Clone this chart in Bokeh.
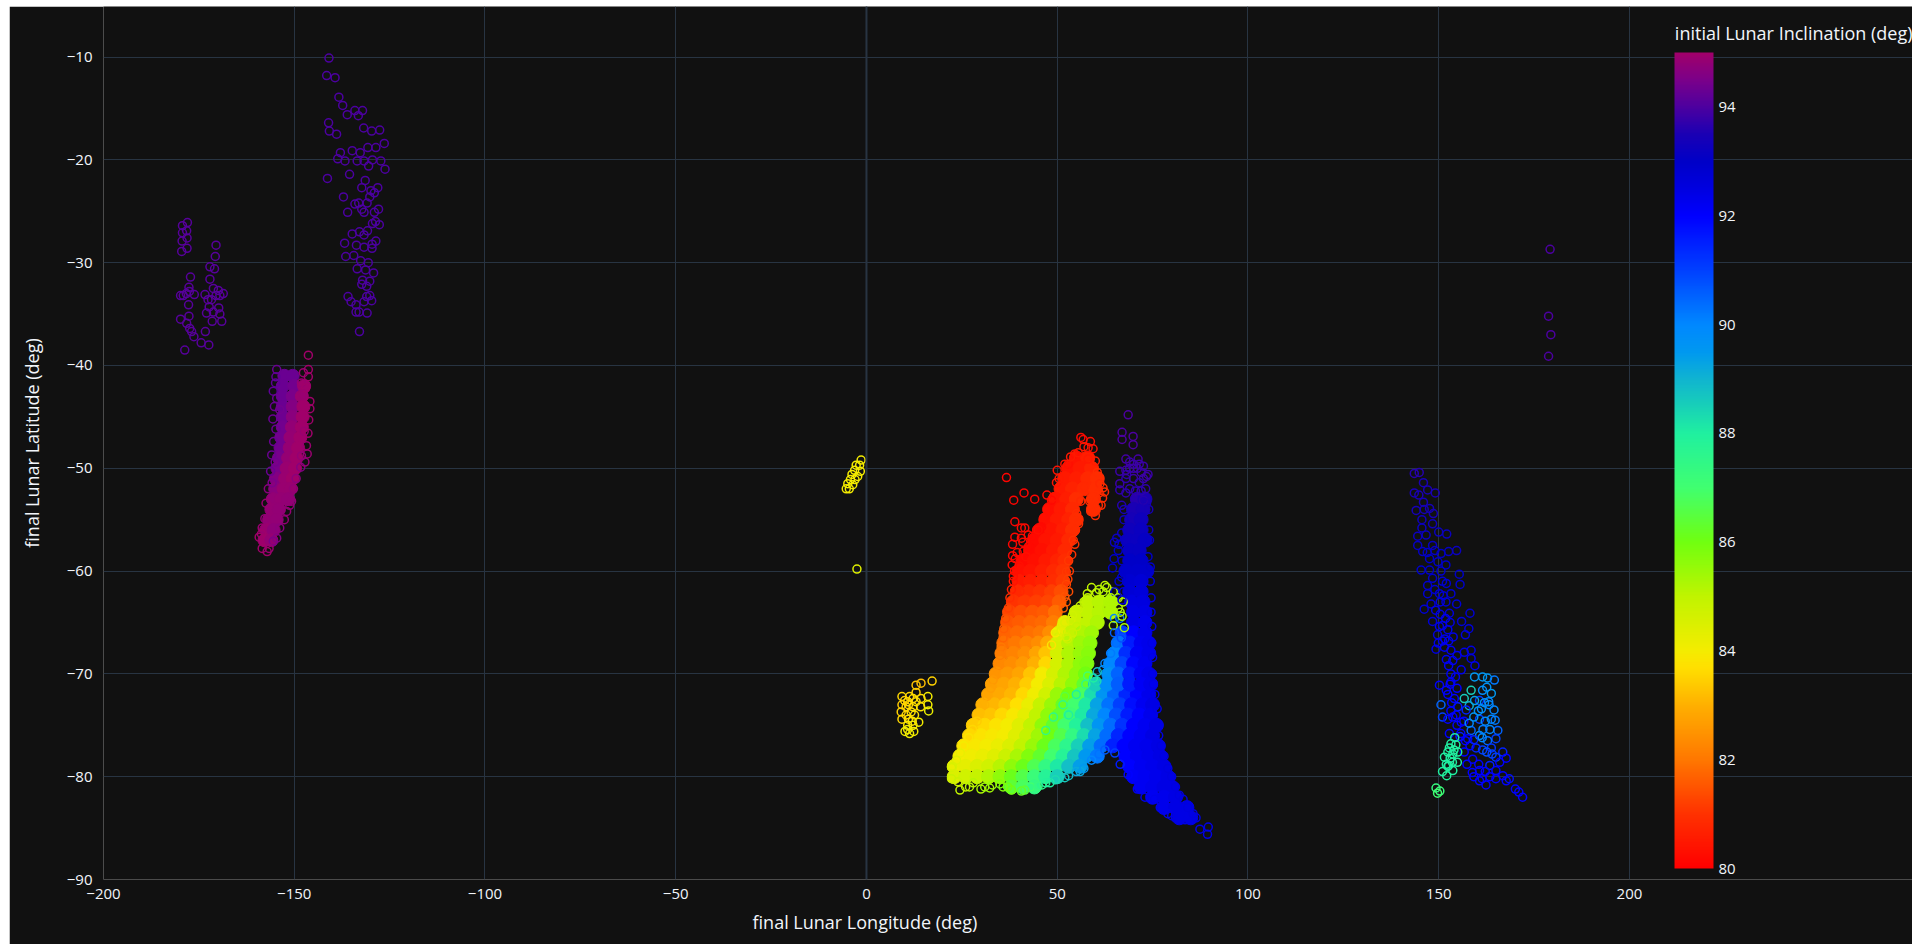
from bokeh.embed import file_html
from bokeh.resources import INLINE
from bokeh.plotting import figure
from bokeh.models import (ColumnDataSource, LinearColorMapper, ColorBar, FixedTicker,
                          Range1d, Span, Label, Title)

# ---------- axis and scale labels ----------
x_ticks = [-200, -150, -100, -50, 0, 50, 100, 150, 200]
y_ticks = [-90, -80, -70, -60, -50, -40, -30, -20, -10]
cbar_ticks = [80, 82, 84, 86, 88, 90, 92, 94]
x_title = "final Lunar Longitude (deg)"
y_title = "final Lunar Latitude (deg)"
cbar_title = "initial Lunar Inclination (deg)"

# colour scale stops: (inclination, hex)
scale_stops = [(80, "#ff0000"), (81, "#ff3200"), (82, "#ff7800"), (83, "#ffb000"), (83.7, "#ffe000"),
               (84, "#f4ec00"), (85, "#c0f400"), (86, "#70ff10"), (87, "#40ff70"), (88, "#20f0a0"),
               (88.5, "#18d0b8"), (89, "#10b4d0"), (89.5, "#0098f0"), (90, "#0088ff"), (91, "#0040ff"),
               (92, "#0000ff"), (92.5, "#0000e0"), (93, "#0000c8"), (93.5, "#1a00b4"), (94, "#4c00a0"),
               (94.5, "#7a008a"), (95, "#a0006a")]

# ---------- sparse points, read one by one: (lon, lat, inc) ----------
top_arc = [(-140.9,-10.1,94),(-141.5,-11.8,94),(-139.3,-12,94),(-138.3,-13.9,94),(-137.3,-14.7,94),(-136.1,-15.6,94),
 (-134.1,-15.2,94),(-133.2,-15.7,94),(-132.1,-15.2,94),(-141,-16.4,94),(-140.8,-17.2,94),(-138.9,-17.5,94),
 (-131.8,-16.9,94),(-129.7,-17.2,94),(-127.6,-17.1,94),(-126.4,-18.4,94),(-128.6,-18.8,94),(-130.7,-18.8,94),
 (-132.7,-19.3,94),(-134.8,-19.1,94),(-137.9,-19.3,94),(-138.6,-19.9,94),(-136.7,-20.1,94),(-133.5,-20.1,94),
 (-131.7,-20.1,94),(-129.5,-20,94),(-127.3,-20.1,94),(-130.5,-20.6,94),(-126.2,-20.9,94),(-141.3,-21.8,94),
 (-135.5,-21.4,94),(-131.4,-22,94),(-132.3,-22.7,94),(-128.1,-22.7,94),(-129.9,-23,94),(-129,-23.2,94),
 (-130.2,-23.6,94),(-137.1,-23.6,94),(-134.1,-24.3,94),(-133.1,-24.2,94),(-130.9,-24.2,94),(-132.3,-24.8,94),
 (-131.7,-25.1,94),(-127.9,-24.8,94),(-129,-25.1,94),(-136,-25.1,94),(-129.5,-26.2,94),(-127.7,-26.3,94),
 (-128.7,-26,94),(-130.8,-26.9,94),(-132.9,-27,94),(-134.8,-27.2,94),(-131.7,-27.3,94),(-136.8,-28.1,94),
 (-133.7,-28.3,94),(-128.6,-27.9,94),(-129.6,-28.2,94),(-129.6,-28.6,94),(-131.7,-28.5,94),(-136.5,-29.4,94),
 (-134.4,-29.3,94),(-132.6,-29.8,94),(-130.6,-30,94),(-133.5,-30.6,94),(-131.3,-30.7,94),(-129.2,-31,94),
 (-132.1,-31.7,94),(-130.2,-31.8,94),(-132.3,-32.1,94),(-131,-32.3,94),(-135.9,-33.3,94),(-130.2,-33.2,94),
 (-131,-33.3,94),(-129.7,-33.7,94),(-135.1,-33.8,94),(-131.7,-33.8,94),(-133.8,-34.1,94),(-133.8,-34.8,94),
 (-133,-34.8,94),(-130.9,-34.9,94),(-132.9,-36.7,94)]

far_left = [(-178,-26.1,94.1),(-179.3,-26.4,94.1),(-178.2,-26.9,94.1),(-179.3,-27.1,94.1),(-178.1,-27.6,94.1),
 (-179.4,-27.9,94.1),(-178.1,-28.6,94.1),(-179.5,-28.9,94.1),(-170.5,-28.3,94.1),(-170.7,-29.4,94.1),(-172.1,-30.4,94.1),
 (-170.9,-30.6,94.1),(-177.2,-31.4,94.1),(-172.1,-31.6,94.1),(-177.6,-32.4,94.1),(-171.2,-32.5,94.1),(-179.8,-33.2,94.1),
 (-179.1,-33.2,94.1),(-178.3,-33,94.1),(-177.5,-32.8,94.1),(-176.2,-33.1,94.1),(-173.4,-33.1,94.1),(-169.9,-32.7,94.1),
 (-168.6,-33,94.1),(-169.5,-33.2,94.1),(-170.5,-33.2,94.1),(-172.6,-33.6,94.1),(-171.7,-33.6,94.1),(-177.7,-34.1,94.1),
 (-169.8,-34.4,94.1),(-172.3,-34.3,94.1),(-173,-34.9,94.1),(-171.2,-34.8,94.1),(-169.5,-35,94.1),(-179.8,-35.5,94.1),
 (-177.6,-35.2,94.1),(-171.5,-35.7,94.1),(-169,-35.7,94.1),(-178.2,-35.9,94.1),(-177.4,-36.4,94.1),(-176.9,-36.7,94.1),
 (-176.3,-37.2,94.1),(-173.3,-36.7,94.1),(-174.4,-37.8,94.1),(-172.4,-38,94.1),(-178.7,-38.5,94.1)]

far_right = [(179.2,-28.7,94),(178.8,-35.2,94),(179.4,-37,94),(178.8,-39.1,94)]

yellow_chain = [(-1.4,-49.2,84),(-1.8,-49.7,84),(-1.6,-50.3,84),(-2.7,-49.7,84),(-3.1,-50.2,84),(-3.8,-50.6,84),
 (-2.3,-50.8,84),(-4.2,-51.1,84),(-3,-51.1,84),(-4.9,-51.5,84),(-3.6,-51.6,84),(-5.3,-52,84),(-4.5,-52,84),(-2.5,-59.8,84.4)]

yellow_patch = [(17.2,-70.7,83.5),(14.3,-70.9,83.2),(13,-71.1,83.3),(13,-71.8,83.4),(9.3,-72.2,83.6),(16.1,-72.2,84),
 (12.2,-72.4,83.7),(14.3,-72.4,83.7),(10.8,-72.7,83.6),(13,-72.7,83.7),(16.1,-73,84),(9.3,-73,83.4),(10.4,-73.2,83.5),
 (12.2,-73.2,83.7),(14.2,-73.2,83.8),(16.3,-73.6,84.2),(9.1,-73.7,83.5),(11.7,-73.7,83.7),(10.4,-74,83.6),(12.6,-74,83.8),
 (9.3,-74.4,83.6),(11,-74.4,83.7),(13.7,-74.7,84),(10.8,-75,83.9),(12.2,-75,84),(10.1,-75.6,84),(11.3,-75.8,84.1),
 (12.4,-75.6,84),(11.3,-72.2,83.6),(10,-72.6,83.5),(11,-73,83.6),(12,-74.6,83.8),(10.8,-75.4,84)]

magenta_edge = [(-146.3,-39,95),(-146.3,-40.4,95),(-147.6,-40.7,94.9),(-154.6,-40.4,94.3),(-154.8,-41.1,94.2),
 (-154.9,-41.7,94.2),(-146.3,-41.1,95),(-155.5,-42.5,94.2),(-148.1,-41.7,94.9),(-147,-42.2,95),(-145.9,-43.5,95),
 (-155.2,-44,94.3),(-145.9,-44.2,95),(-153.8,-44.3,94.4),(-146.2,-45.3,95),(-146.8,-47.8,94.9),(-155.9,-48.7,94.3),
 (-148.3,-49.9,94.6),(-156.2,-50.3,94.3),(-150.7,-53.2,94.8),(-157.4,-53.4,94.9),(-152,-54.2,94.8),(-153.8,-55.8,94.7),
 (-157.7,-54.9,94.8),(-159.2,-56.7,95),(-155.5,-57.1,94.5),(-158.4,-57.8,95),(-157.1,-58.1,95),(-147.6,-42.8,94.9),
 (-147.4,-46.4,94.9),(-154.8,-46.2,94.3),(-155.4,-47.4,94.3),(-148.1,-48.8,94.8),(-149.5,-51,94.7),(-156.8,-52,94.7),
 (-146.4,-46.6,95),(-146.6,-48.6,94.9),(-147.2,-49.4,94.8),(-155.6,-45.2,94.3),(-154.6,-43.2,94.3),(-155,-49.4,94.4),
 (-155.8,-51.4,94.5),(-150.2,-52,94.8),(-151.2,-53.6,94.8),(-152.6,-55,94.8),(-158.4,-55.8,94.9),(-154.6,-56.8,94.6),
 (-158.6,-56.4,95),(-156.6,-57.8,94.9)]

right_plume = [(143.6,-50.5,93.6),(144.9,-50.4,93.6),(146,-51.4,93.5),(143.6,-52.4,93.5),(144.8,-52.6,93.5),(147.1,-52.1,93.5),
 (149.1,-52.4,93.5),(146,-53.3,93.4),(144.1,-54.1,93.4),(146.2,-54,93.4),(147.6,-53.9,93.4),(145.6,-55,93.3),(148.6,-54.4,93.4),
 (148.4,-55.4,93.3),(145.6,-55.8,93.2),(150,-56.2,93.2),(152.1,-56.4,93.2),(144.5,-56.6,93.2),(146.7,-56.5,93.2),(144.5,-57.5,93.1),
 (148.4,-57.5,93.1),(145.8,-58.1,93.1),(152.6,-58.1,93.1),(154.7,-58,93.2),(150.6,-58.3,93),(147.6,-58.8,93),(149.8,-59.1,93),
 (151.9,-59.4,93),(145.4,-59.9,92.9),(147.6,-59.9,92.9),(155.4,-60.3,93),(148.4,-60.7,92.9),(151,-61,92.8),(155.6,-61.3,92.9),
 (147.1,-61.4,92.8),(153.2,-62.2,92.8),(147.1,-62.2,92.8),(150.2,-62.2,92.7),(148,-63.2,92.7),(146.2,-63.7,92.7),(151.9,-63,92.7),
 (154.7,-63.2,92.7),(158.2,-64.1,92.8),(148.4,-64.9,92.6),(152.8,-64.1,92.5),(156,-64.9,92.6),(157.9,-65.6,92.6),(151,-65.3,92.4),
 (149.7,-66.2,92.5),(157,-66.2,92.5),(152.4,-65.7,92.3),(149.3,-67.6,92.4),(151.5,-67.4,92.2),(153.2,-67.7,92.2),(156.7,-67.9,92.4),
 (158.5,-67.7,92.4),(158.5,-68.5,92.4),(153.7,-68.7,92.2),(159.5,-69.2,92.3),(155.9,-69.6,92.2),(153.2,-70,92.2),(154.4,-70.3,92.2),
 (159.4,-70.3,89.5),(161.5,-70.3,89.6),(162.8,-70.4,89.5),(164.6,-70.6,90.2),(150.2,-71.1,92),(153.2,-70.8,92.2),(158.5,-71.6,88.5),
 (161.5,-71.6,89.8),(162.6,-71.3,89.7),(163.8,-71.9,89.5),(160.7,-72.6,91),(156.7,-72.4,88.6),(154.1,-72.4,92),(150.6,-73,90.5),
 (163.1,-72.7,90),(158,-73.1,89),(155,-73.2,91.5),(164.5,-73.5,90),(151,-74.2,91),(157.2,-73.5,91.5),(160.7,-74.4,91),(153.7,-74.2,92),
 (164.8,-74.5,90.2),(155.9,-74.7,92),(158.5,-75.5,90.5),(152.8,-75.8,92),(155.6,-76.1,91.5),(165.5,-75.5,90.5),(160.7,-76,89.8),
 (157.6,-76.3,92),(165,-76.3,91),(153.2,-76.8,88),(152.4,-77.6,88),(154.5,-76.9,88),(151.5,-78.1,88),(156.7,-77.6,92),(153.7,-77.8,88),
 (161.5,-77.4,91),(158.9,-78.3,92),(166.8,-77.6,91.5),(152.6,-78.9,88),(154.9,-78.6,88),(165,-78.1,91),(167.7,-78.2,92),(151,-79.5,88),
 (152.1,-79.9,87.9),(153.7,-79.4,88),(160.7,-79.4,92),(163.4,-78.9,91.5),(166.8,-79.9,92),(168.5,-80.2,91.8),(165,-79.4,92),
 (149.3,-81.1,87.3),(150.3,-81.4,87.2),(149.7,-81.6,87),(160.7,-80.4,92),(162.4,-80.8,92),(165,-80.2,92),(170.1,-81.2,92),(167.7,-80.4,92),
 (172,-82,92),(171,-81.5,92),(150.4,-64.2,92.4),(151.6,-66.6,92.3),(152.6,-69.2,92.1),(152,-71.6,92),(153.4,-72.8,92),
 (161.2,-73.4,89.9),(162.2,-74.6,89.9),(163.4,-75.4,90),(159.4,-72.6,89.3),(161.6,-75.4,90.2),(162.8,-76.5,90.4),(159.8,-77.2,91.4),
 (157.4,-78.8,92),(158.8,-79.6,92),(153,-78.2,88),(152,-78.8,88),(154,-77.4,88),(155.8,-75.8,92),(154.8,-75,92),(163.8,-77.2,91.2),
 (149.2,-63.8,92.4),(150.4,-63,92.4),(150.2,-65.4,92.3),(151.8,-64.6,92.3),(153,-65,92.4),(149.9,-67,92.3),(151,-66.8,92.3),
 (152.6,-66.8,92.2),(153.8,-66.4,92.4),(152,-68.6,92.2),(154.8,-68.2,92.3),(153,-71,92),(154.8,-71.4,92),(152.4,-72,92),(153.2,-73.6,92),
 (152.4,-74.4,92),(154.6,-74,92),(156.6,-74.6,92),(157,-76.5,92),(158.2,-77,92),(159.2,-76.4,91.5),(160.5,-78.8,92),(162.2,-79.5,92),
 (163.4,-80,92),(159.2,-80,92),(161.4,-80.2,92),(164,-77.8,91),(166,-78.6,92),(162,-72.8,89.8),(160.4,-73.6,89.7),(159.2,-74.2,89.6),
 (158,-74.8,90),(161.4,-76.2,90),(163.8,-74.4,90),(162.6,-77.6,90.8),(163.2,-73,90),(147,-58.2,93),(149,-58,93.1),(150.6,-60,92.9),
 (152,-61.2,92.8),(149,-61.8,92.8),(151.2,-62.4,92.7),(152.8,-77.2,88),(153.6,-78.6,88),(152.4,-79,88),(154.2,-76.2,88.2),(155,-77.6,88)]

cluster_edge = [(36.7,-50.9,80.1),(41.3,-52.4,80.1),(38.6,-53.1,80.1),(44.1,-53,80.1),(47.3,-52.6,80.2),(48.5,-53.1,80.2),
 (38.9,-55.2,80.1),(40.6,-55.8,80.2),(41.5,-55.8,80.2),(38.9,-56.7,80.1),(40.6,-56.8,80.2),(38.3,-57.4,80.1),(42.4,-56.5,80.2),
 (44.6,-56,80.2),(41.1,-58.1,80.2),(45.9,-55.7,80.2),(38.2,-59.4,80.2),(56.2,-47,80.2),(56.8,-47.2,80.2),(58.7,-47.4,80.3),
 (58.1,-48,80.3),(59.4,-48.1,80.3),(54.6,-48.6,80.3),(52.9,-49.6,80.3),(60,-49.3,80.6),(58.1,-49.1,80.5),(61.2,-51.5,80.8),
 (61.9,-52.9,80.8),(59.7,-54.2,80.9),(60.8,-53.6,80.9),(49.8,-51.4,80.4),(38.5,-61,80.4),(40.2,-62,80.8),(52.4,-60.1,81.1),
 (52.4,-61.3,81.3),(52,-62.5,81.5),(54.2,-57,81),(55.1,-54.4,80.9),
 (62.5,-61.4,85),(57.9,-62.2,85),(60.3,-62.1,85),(55.5,-63.7,84.8),(53.6,-64.8,84.6),(51.1,-65.3,84.3),(50.3,-66.4,84.5),
 (52.7,-66.6,84.8),(55.1,-65.4,84.9),(64.7,-62,85.1),(67.3,-63,85.2),(66,-63.6,85.2),(65,-64.6,90),(66.4,-64.6,90.2),
 (67.6,-65.5,85.3),(64.7,-65.3,85.2),(63.6,-62.8,85.2),(59,-61.6,85),
 (40.6,-81.4,86.2),(24.5,-81.3,85),(32.3,-81.1,85.4),(22.3,-79.1,84.6),(22.3,-80.2,84.8),(35,-80.7,85.8),(48.1,-80.6,88),
 (52,-80.1,88.6),(56,-79.5,89.2),(27,-81,85.1),(30,-81.2,85.3),(37,-81,86),(43,-81,87),(46,-80.8,87.6),
 (65.1,-77.7,91),(80,-83.8,92.4),(83.5,-84.2,92.4),(85.5,-84,92.4),(87.4,-85.1,92.4),(89.6,-84.9,92.4),(89.4,-85.6,92.4),(77.4,-82.6,92.3),
 (68.6,-44.8,94),(67,-46.5,94),(67,-47.2,94),(69.9,-46.9,94),(69.9,-47.7,94),(68,-49.1,93.9),(71.2,-49.1,93.9),(66.4,-50.3,93.8),
 (66.4,-51.5,93.8),(66.4,-52.1,93.7),(72.6,-51,93.8),(72.6,-53.1,93.6),(66.9,-53.6,93.6),(65.6,-56.8,93.2),(66.9,-56.3,93.2),
 (64.9,-58.8,93),(64.5,-59.7,93),(66.9,-60.6,92.9),(65.1,-62,92.7),(73.8,-50.6,93.8),(73.2,-52,93.7),(62,-69.6,89.6),(60.4,-70.7,88.4)]

red_edge = [(38.3,-58.5,80.1),(38.8,-60,80.3),(38.5,-60.5,80.3),(38,-61.8,80.6),(37.6,-62.6,80.9),(37.2,-63.6,81.2),(36.5,-64.6,81.4),
 (36,-65.6,81.6),(35.8,-66.5,81.7),(35.3,-67.4,82),(35,-68.2,82.1),(34.6,-69.2,82.3),(33.9,-70,82.5),(33.2,-70.6,82.6),(32.6,-71.4,82.7),
 (31.6,-72.2,82.8),(31,-73,83),(29.8,-73.8,83.2),(29,-74.6,83.4),(27.8,-75.4,83.6),(26.8,-76.2,83.8),(25.5,-77,84),(24.6,-77.7,84.2),
 (23.6,-78.4,84.4),(22.6,-79,84.5),(39.5,-58.2,80.2),(41,-57.2,80.2),(42.5,-57.6,80.2),(43.5,-56.6,80.2),(40,-59.5,80.3),(41.8,-58.6,80.3),
 (39,-58.8,80.2),(45,-56,80.3),(46.5,-54.8,80.3),(47.5,-54,80.3),(49,-52.8,80.4),(50.5,-51,80.5),(50,-50.2,80.4),(52,-49.6,80.4),
 (53.5,-48.9,80.5),(55.5,-48.5,80.5),(57,-47.9,80.5),(60.5,-50.4,80.9),(62,-51.9,80.9),(62.4,-52.3,80.9),(61,-52.4,80.9),(61.5,-53.6,80.9),
 (60,-54.6,80.9),(58.8,-54.2,80.9),(58.5,-53.2,80.9),(57.2,-51.8,80.8),(56.2,-53.2,80.8),(55.6,-55.4,80.9),(54.8,-56,80.9),(54.6,-57.4,81),
 (53.8,-58.4,81),(53,-59,81.1),(53.2,-60,81.1),(52.8,-60.8,81.2),(53,-62,81.4),(52.4,-63,81.6),(51.6,-63.6,81.7)]

green_edge = [(48.5,-67.2,83.8),(49.5,-66,84),(51,-65.8,84.4),(52,-65,84.5),(52.4,-66.4,84.6),(54,-64.3,84.7),(54,-66,84.8),(56,-63.4,84.9),
 (57,-63,85),(58,-62.6,85),(61,-61.8,85.1),(62,-62,85.1),(63,-61.6,85.1),(64,-62.6,85.2),(65,-63,85.2),(66,-62.6,85.2),(66.5,-64,85.2),
 (67,-64.4,85.3),(63,-63.6,85.2),(52,-72.2,86.5),(51.5,-73,87.5),(49,-74.2,87.5),(53,-74,88),(47,-75.5,87.5),(55,-72,88),(57.5,-71,87.5),
 (58,-70.2,87),(59.5,-70.4,88),(60.5,-69.8,88.8),(62.5,-69,90),(64,-68,90.2),(65.5,-67,90.4),(65,-66,90.6),(66.8,-66.5,90.8),
 (24,-80.5,84.8),(26,-81,85),(28,-80.6,85.1),(31,-81,85.4),(33,-80.8,85.5),(35.8,-81,85.8),(38,-81.3,86),(41.5,-81.3,86.4),(45,-80.9,87.3),
 (47,-80.6,87.9),(49.5,-80.3,88.3),(53,-79.9,88.8),(55,-79.5,89.2),(57,-79.2,89.5),(59,-78.4,90),(61,-77.8,90.3),(62.5,-77.4,90.6)]

blue_edge = [(65,-57.2,93.2),(66.2,-57.4,93.1),(67.5,-55,93.3),(67.5,-54,93.4),(68,-52.4,93.7),(68.2,-50.6,93.7),(69,-49.4,93.8),(70,-49.6,93.8),
 (72.6,-49.8,93.8),(73.4,-50.8,93.8),(73.4,-53.4,93.5),(74,-54,93.4),(74,-56,93.2),(74.2,-57,93.1),(73.8,-58.6,93),(74.4,-59.6,93),(67,-59,93),
 (66,-58,93),(66.2,-61,92.9),(67.4,-62,92.8),(67,-62.8,92.7),(74.4,-61,92.8),(74.6,-62.6,92.6),(74.6,-64,92.5),(74.8,-65.4,92.4),(74.8,-67,92.4),
 (75,-68.4,92.4),(75,-70,92.4),(75.2,-71,92.4),(75.6,-72,92.4),(76.2,-73.4,92.4),(76.6,-75,92.4),(76.6,-76,92.4),(77.2,-77,92.5),(78,-78,92.5),
 (79,-79.2,92.5),(80,-80,92.5),(81,-81,92.5),(82,-81.8,92.5),(83,-82.2,92.5),(84.2,-83,92.5),(85.6,-83.6,92.5),(86.4,-84,92.5),(71,-81.2,92.2),
 (73,-82,92.3),(75.5,-82.2,92.3),(77,-83,92.3),(79,-83.6,92.3),(81,-84,92.4),(68.6,-79.8,92),(66.5,-78.8,91.6),
 (69,-50,93.8),(71,-50,93.8),(72,-50.4,93.8),(68,-51,93.7),(70,-51,93.8),(71.5,-51.4,93.7),(69,-52,93.7),(70.5,-52.2,93.7),(72,-52.2,93.7),
 (68,-50.2,93.8),(70,-50,93.8),(71.5,-49.6,93.8)]

# ---------- heavily overplotted parts, read row by row: (lat, [(lon, inc), ...]) ----------
magenta_rows = [
 (-41,[(-152.6,94.3),(-150.4,94.3)]),(-42,[(-153,94.3),(-150,94.4),(-147.4,94.95)]),
 (-43,[(-153,94.3),(-150.4,94.5),(-148,94.9)]),(-44,[(-153,94.3),(-150.4,94.6),(-147.6,95)]),
 (-45,[(-153,94.35),(-150.4,94.7),(-147.8,95)]),(-46,[(-153,94.4),(-150.6,94.8),(-148,95)]),
 (-47,[(-153.4,94.4),(-151,94.85),(-148.4,95)]),(-48,[(-153.6,94.4),(-151.2,94.85),(-149,95)]),
 (-49,[(-154,94.45),(-151.6,94.85),(-149.4,95)]),(-50,[(-154.4,94.5),(-152,94.9),(-149.8,95)]),
 (-51,[(-154.8,94.6),(-152.4,94.9),(-150.4,95)]),(-52,[(-155,94.7),(-152.8,94.9),(-151,94.9)]),
 (-53,[(-155.6,94.8),(-153.4,94.85),(-151.6,94.8)]),(-54,[(-156,94.85),(-154,94.8)]),
 (-55,[(-156.6,94.85),(-154.6,94.8)]),(-56,[(-157.4,94.9),(-155.4,94.75)]),(-57,[(-157.8,94.95),(-156,94.85)])]

red_rows = [
 (-49,[(55,80.4),(58,80.6)]),(-50,[(53,80.4),(56,80.5),(59,80.7)]),(-51,[(52,80.5),(55,80.6),(58,80.8),(60.5,80.9)]),
 (-52,[(51,80.5),(54,80.7),(57,80.8),(60,80.9)]),(-53,[(49.5,80.4),(52.5,80.6),(55,80.9),(59.5,80.9)]),
 (-54,[(48,80.3),(51,80.5),(54,80.8),(59.5,80.9)]),(-55,[(47,80.3),(50,80.5),(53,80.7),(55,80.9)]),
 (-56,[(45.5,80.2),(48.5,80.4),(51.5,80.6),(54,80.9)]),(-57,[(44,80.2),(47,80.4),(50,80.5),(53,80.8)]),
 (-58,[(43,80.2),(46,80.3),(49,80.5),(52,80.8)]),(-59,[(41,80.2),(44,80.3),(47,80.5),(50,80.7),(52,80.9)]),
 (-60,[(40,80.3),(43,80.4),(46,80.6),(49,80.8),(51.5,81)]),(-61,[(40,80.5),(43,80.6),(46,80.7),(49,80.9),(51.5,81.1)]),
 (-62,[(39.5,80.8),(42.5,80.9),(45.5,81),(48.5,81.2),(51,81.4)]),(-63,[(38.5,81),(41.5,81.1),(44.5,81.2),(47.5,81.3),(50.5,81.6)]),
 (-64,[(37.5,81.3),(40.5,81.4),(43.5,81.5),(46.5,81.6),(49.5,81.9)]),(-65,[(37,81.5),(40,81.6),(43,81.7),(46,81.8),(49,82.1)]),
 (-66,[(36.5,81.7),(39.5,81.8),(42.5,81.9),(45.5,82),(48,82.4)]),(-67,[(36,81.9),(39,82),(42,82.2),(45,82.4),(47.5,82.9)]),
 (-68,[(35.5,82.1),(38.5,82.2),(41.5,82.4),(44.5,82.8),(47,83.3)]),(-69,[(35,82.3),(38,82.4),(41,82.6),(44,83),(47,83.6)]),
 (-70,[(34,82.5),(37,82.6),(40,82.8),(43,83.3),(46,84)]),(-71,[(33,82.7),(36,82.8),(39,83),(42,83.4),(45,84)])]

green_rows = [
 (-63,[(58,85),(61,85.1),(64,85.2)]),(-64,[(55,84.8),(58,85),(61,85.1),(64,85.2)]),(-65,[(52,84.3),(55,84.8),(58,85),(60.5,85.2)]),
 (-66,[(50.5,84.3),(53.5,84.9),(56.5,85.2),(59,85.4)]),(-67,[(50,84.6),(53,85.1),(56,85.4),(58.6,85.6)]),
 (-68,[(50,84.6),(53,85.2),(56,85.5),(58.2,85.7)]),(-69,[(50,84.6),(53,85.2),(56,85.6),(57.8,85.8)]),
 (-70,[(49,84.6),(52,85.2),(55,85.6),(57.4,86)]),(-71,[(48,84.5),(51,85.1),(54,85.6),(57,86.3)])]

lower_rows = [
 (-72,[(32,82.8),(35,82.9),(38,83.1),(41,83.6),(44,84.1),(47,84.7),(50,85.5),(53,86),(56,86.8),(59,88.3),(62,89.6),(65,90.5),(68,91.4),(71,92),(74,92.3)]),
 (-73,[(30.5,83),(33.5,83.1),(36.5,83.3),(39.5,83.7),(42.5,84.2),(45.5,84.9),(48.5,85.5),(51.5,86.2),(54.5,87),(57.5,88.1),(60.5,89.3),(63.5,90.3),(66.5,91),(69.5,91.8),(72.5,92.2),(75,92.4)]),
 (-74,[(29.5,83.2),(32.5,83.3),(35.5,83.6),(38.5,83.9),(41.5,84.3),(44.5,85),(47.5,85.6),(50.5,86.3),(53.5,87.1),(56.5,88.1),(59.5,89.2),(62.5,90),(65.5,90.8),(68.5,91.6),(71.5,92),(74.5,92.3)]),
 (-75,[(28,83.4),(31,83.6),(34,83.8),(37,84),(40,84.4),(43,85),(46,85.6),(49,86.3),(52,87),(55,87.9),(58,88.8),(61,89.6),(64,90.4),(67,91.2),(70,92),(73,92.2),(76,92.4)]),
 (-76,[(27,83.6),(30,83.8),(33,83.9),(36,84),(39,84.4),(42,84.9),(45,85.4),(48,86),(51,86.6),(54,87.4),(57,88.3),(60,89.3),(63,90.4),(66,91.4),(69,92),(72,92.2),(75,92.4)]),
 (-77,[(25.5,83.8),(28.5,83.9),(31.5,84),(34.5,84.2),(37.5,84.5),(40.5,85),(43.5,85.5),(46.5,86.1),(49.5,86.8),(52.5,87.6),(55.5,88.5),(58.5,89.4),(61.5,90.4),(64.5,91.5),(67.5,92),(70.5,92.2),(73.5,92.3),(76.5,92.4)]),
 (-78,[(24.5,84),(27.5,84.1),(30.5,84.2),(33.5,84.4),(36.5,84.8),(39.5,85.3),(42.5,85.8),(45.5,86.3),(48.5,87),(51.5,87.8),(54.5,88.7),(57.5,89.5),(60.5,90.2),(68,92),(71,92.2),(74,92.3),(77,92.4)]),
 (-79,[(23,84.2),(26,84.3),(29,84.5),(32,84.7),(35,85.1),(38,85.6),(41,86.1),(44,86.7),(47,87.4),(50,88.1),(53,88.8),(56,89.4),(69,92),(72,92.2),(75,92.3),(78,92.4)]),
 (-80,[(23,84.5),(26,84.7),(29,84.9),(32,85.2),(35,85.6),(38,86.1),(41,86.6),(44,87.2),(47,87.8),(50,88.5),(70,92.1),(73,92.2),(76,92.3),(79,92.4)]),
 (-81,[(38,86.4),(41,86.8),(44,87.4),(72,92.2),(75,92.3),(78,92.4),(80,92.4)]),
 (-82,[(75,92.2),(78,92.3),(81,92.4)]),(-83,[(78,92.3),(81,92.4),(84,92.4)]),(-84,[(82,92.4),(85,92.4)])]

blue_rows = [
 (-53,[(71,93.6),(73,93.5)]),
 (-54,[(70,93.5),(72.5,93.4)]),(-55,[(69.5,93.4),(72,93.3)]),(-56,[(69,93.3),(72,93.2)]),(-57,[(68.5,93.2),(71,93.2),(73,93.1)]),
 (-58,[(69,93.1),(71.5,93.1)]),(-59,[(69,93),(72,93)]),(-60,[(68,92.9),(71,92.9),(73.5,92.9)]),(-61,[(69,92.8),(72,92.7)]),
 (-62,[(69,92.7),(72,92.6)]),(-63,[(69.5,92.5),(72.5,92.5)]),(-64,[(70,92.4),(73,92.4)]),(-65,[(70,92.4),(73,92.3)]),
 (-66,[(67,91),(70,92),(73,92.3)]),(-67,[(66,90.3),(69,91.6),(72,92.2),(74,92.3)]),(-68,[(65,90),(68,91.3),(71,92.1),(74,92.3)]),
 (-69,[(64,90),(67,90.9),(70,91.9),(73,92.2)]),(-70,[(63.5,89.7),(66,90.5),(69,91.6),(72,92.1),(74,92.3)]),
 (-71,[(60,88.5),(63,89.8),(66,90.6),(69,91.6),(72,92.1),(74.5,92.3)])]


def hex_rgb(h):
    return tuple(int(h[i:i + 2], 16) for i in (1, 3, 5))


def make_palette(stops, n=512):
    lo, hi = stops[0][0], stops[-1][0]
    out = []
    for i in range(n):
        v = lo + (hi - lo) * i / (n - 1)
        for (a, ca), (b, cb) in zip(stops, stops[1:]):
            if v <= b:
                t = (v - a) / (b - a)
                ra, rb = hex_rgb(ca), hex_rgb(cb)
                out.append("#%02x%02x%02x" % tuple(round(x + (y - x) * t) for x, y in zip(ra, rb)))
                break
    return out


def from_triples(*groups):
    t = [r for g in groups for r in g]
    return ColumnDataSource(dict(lon=[r[0] for r in t], lat=[r[1] for r in t], inc=[r[2] for r in t]))


def from_rows(*groups):
    t = [(lon, lat, inc) for g in groups for lat, cells in g for lon, inc in cells]
    return from_triples(t)


mapper = LinearColorMapper(palette=make_palette(scale_stops), low=80, high=95)

BG = "#111111"
GRID = "#283442"
TXT = "#f2f5fa"
FONT = "Open Sans"

# the plot frame runs on to the right edge, so the scale and its title sit inside it; grid lines stop at 200
p = figure(width=1903, height=938, output_backend="svg", toolbar_location=None,
           x_range=Range1d(-200, 274.2), y_range=Range1d(-90, -5.08),
           background_fill_color=BG, border_fill_color=BG, outline_line_color=None,
           min_border_left=94, min_border_right=0, min_border_top=0, min_border_bottom=65,
           margin=(6, 0, 0, 9))

p.xaxis.ticker = FixedTicker(ticks=x_ticks)
p.yaxis.ticker = FixedTicker(ticks=y_ticks)
p.xaxis.major_label_overrides = {v: str(v).replace("-", "\u2212") for v in x_ticks}
p.yaxis.major_label_overrides = {v: str(v).replace("-", "\u2212") for v in y_ticks}
p.yaxis.axis_label = y_title
for ax in (p.xaxis[0], p.yaxis[0]):
    ax.axis_line_color = None
    ax.major_tick_line_color = None
    ax.minor_tick_line_color = None
    ax.major_label_text_color = TXT
    ax.major_label_text_font = FONT
    ax.major_label_text_font_size = "15px"
    ax.axis_label_text_color = TXT
    ax.axis_label_text_font = FONT
    ax.axis_label_text_font_size = "18px"
    ax.axis_label_text_font_style = "normal"
p.xaxis.major_label_standoff = 3
p.yaxis.major_label_standoff = 5
p.yaxis.axis_label_standoff = 20
p.grid.grid_line_color = GRID
p.grid.grid_line_width = 1
p.ygrid.bounds = (-200, 200)
p.add_layout(Span(location=0, dimension="height", line_color=GRID, line_width=2))

color = {"field": "inc", "transform": mapper}
p.scatter("lon", "lat", source=from_rows(magenta_rows), size=13, fill_color=color, line_color=color, line_width=1)
p.scatter("lon", "lat", source=from_rows(red_rows, green_rows, lower_rows, blue_rows), size=14,
          fill_color=color, line_color=color, line_width=1)
p.scatter("lon", "lat", source=from_triples(top_arc, far_left, far_right, yellow_chain, yellow_patch, magenta_edge,
                                            right_plume, cluster_edge, red_edge, green_edge, blue_edge),
          size=8, fill_color=None, line_color=color, line_width=1.5)

cb = ColorBar(color_mapper=mapper, ticker=FixedTicker(ticks=cbar_ticks), width=39, height=816,
              location=(1571, 11), padding=0, margin=0,
              major_label_text_font=FONT, major_label_text_font_size="15px", major_label_text_color=TXT,
              major_tick_line_color=None, minor_tick_line_color=None, bar_line_color=None,
              border_line_color=None, background_fill_alpha=0, label_standoff=5)
p.add_layout(cb, "center")
p.add_layout(Label(x=211.9, y=-7.7, text=cbar_title, text_font=FONT,
                   text_font_size="18px", text_color=TXT, text_baseline="middle", text_align="left"))
# the frame is wider than the -200..200 span, so the x title is placed along the bottom band by offset
p.add_layout(Title(text=x_title, align="left", offset=649, text_font=FONT, text_font_size="18px",
                   text_font_style="normal", text_color=TXT, standoff=12), "below")

open("out.html", "w").write(file_html(p, INLINE))
